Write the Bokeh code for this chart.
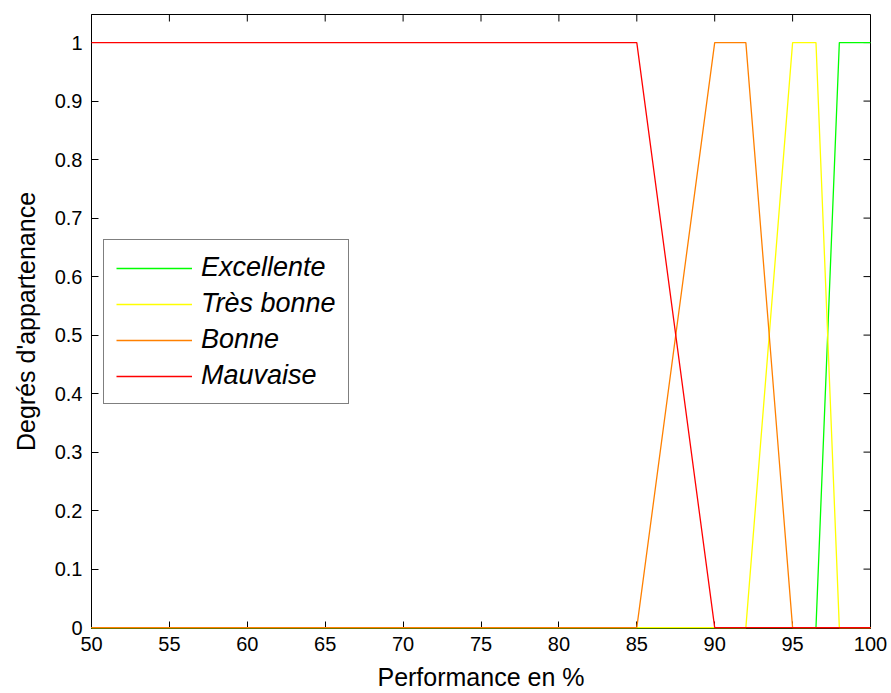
import math
from bokeh.plotting import figure
from bokeh.models import Range1d, FixedTicker, CustomJSTickFormatter, Legend, LegendItem
from bokeh.embed import file_html
from bokeh.resources import INLINE

# Data: membership functions (breakpoints)
excellente_x = [50, 96.5, 98, 100]
excellente_y = [0, 0, 1, 1]
tres_bonne_x = [50, 92, 95, 96.5, 98, 100]
tres_bonne_y = [0, 0, 1, 1, 0, 0]
bonne_x = [50, 85, 90, 92, 95, 100]
bonne_y = [0, 0, 1, 1, 0, 0]
mauvaise_x = [50, 85, 90, 100]
mauvaise_y = [1, 1, 0, 0]

series_names = ["Excellente", "Très bonne", "Bonne", "Mauvaise"]
x_ticks = [50, 55, 60, 65, 70, 75, 80, 85, 90, 95, 100]
y_ticks = [0, 0.1, 0.2, 0.3, 0.4, 0.5, 0.6, 0.7, 0.8, 0.9, 1.0]
x_min, x_max = 50, 100
y_min, y_max = -0.0015, 1.048

FONT = "Liberation Sans"

p = figure(width=891, height=693, output_backend="svg", toolbar_location=None,
           x_range=Range1d(x_min, x_max), y_range=Range1d(y_min, y_max),
           min_border_left=91, min_border_right=21, min_border_top=14, min_border_bottom=65,
           x_axis_label="Performance en %", y_axis_label="Degrés d'appartenance")
p.xgrid.visible = False
p.ygrid.visible = False
p.outline_line_color = "black"
p.outline_line_width = 1
p.background_fill_color = "white"
p.border_fill_color = "white"

fmt = CustomJSTickFormatter(code="return tick.toFixed(1).replace(/\\.0$/, '');")

for ax in p.xaxis:
    ax.ticker = FixedTicker(ticks=x_ticks)
    ax.major_label_standoff = 8
    ax.axis_label_standoff = 9
for ax in p.yaxis:
    ax.ticker = FixedTicker(ticks=y_ticks)
    ax.formatter = fmt
    ax.major_label_standoff = 9
    ax.axis_label_standoff = 12

for ax in list(p.xaxis) + list(p.yaxis):
    ax.major_tick_in = 7
    ax.major_tick_out = 0
    ax.minor_tick_line_color = None
    ax.axis_line_color = "black"
    ax.major_tick_line_color = "black"
    ax.major_label_text_font = FONT
    ax.major_label_text_font_size = "20px"
    ax.major_label_text_color = "black"
    ax.axis_label_text_font = FONT
    ax.axis_label_text_font_size = "25px"
    ax.axis_label_text_font_style = "normal"
    ax.axis_label_text_color = "black"

# Mirror ticks on top and right edges (half of each dash is clipped by the frame)
p.scatter(x=x_ticks, y=[y_max] * len(x_ticks), marker="dash", angle=math.pi / 2,
          size=14, line_color="black", line_width=1)
p.scatter(x=[x_max] * len(y_ticks), y=y_ticks, marker="dash",
          size=14, line_color="black", line_width=1)

r_exc = p.line(excellente_x, excellente_y, line_color="#00ff00", line_width=1.3, level="overlay")
r_tb = p.line(tres_bonne_x, tres_bonne_y, line_color="#ffff00", line_width=1.3, level="overlay")
r_b = p.line(bonne_x, bonne_y, line_color="#ff8000", line_width=1.3, level="overlay")
r_m = p.line(mauvaise_x, mauvaise_y, line_color="#ff0000", line_width=1.3, level="overlay")

legend = Legend(items=[LegendItem(label=series_names[0], renderers=[r_exc]),
                       LegendItem(label=series_names[1], renderers=[r_tb]),
                       LegendItem(label=series_names[2], renderers=[r_b]),
                       LegendItem(label=series_names[3], renderers=[r_m])],
                location=(12, 224))
legend.label_text_font = FONT
legend.label_text_font_size = "27px"
legend.label_text_font_style = "italic"
legend.label_text_color = "black"
legend.glyph_width = 76
legend.glyph_height = 30
legend.label_height = 30
legend.spacing = 5
legend.padding = 12
legend.margin = 0
legend.label_standoff = 9
legend.border_line_color = "black"
legend.border_line_width = 1
legend.background_fill_color = "white"
legend.background_fill_alpha = 1
p.add_layout(legend, "center")

open("out.html", "w").write(file_html(p, INLINE))
